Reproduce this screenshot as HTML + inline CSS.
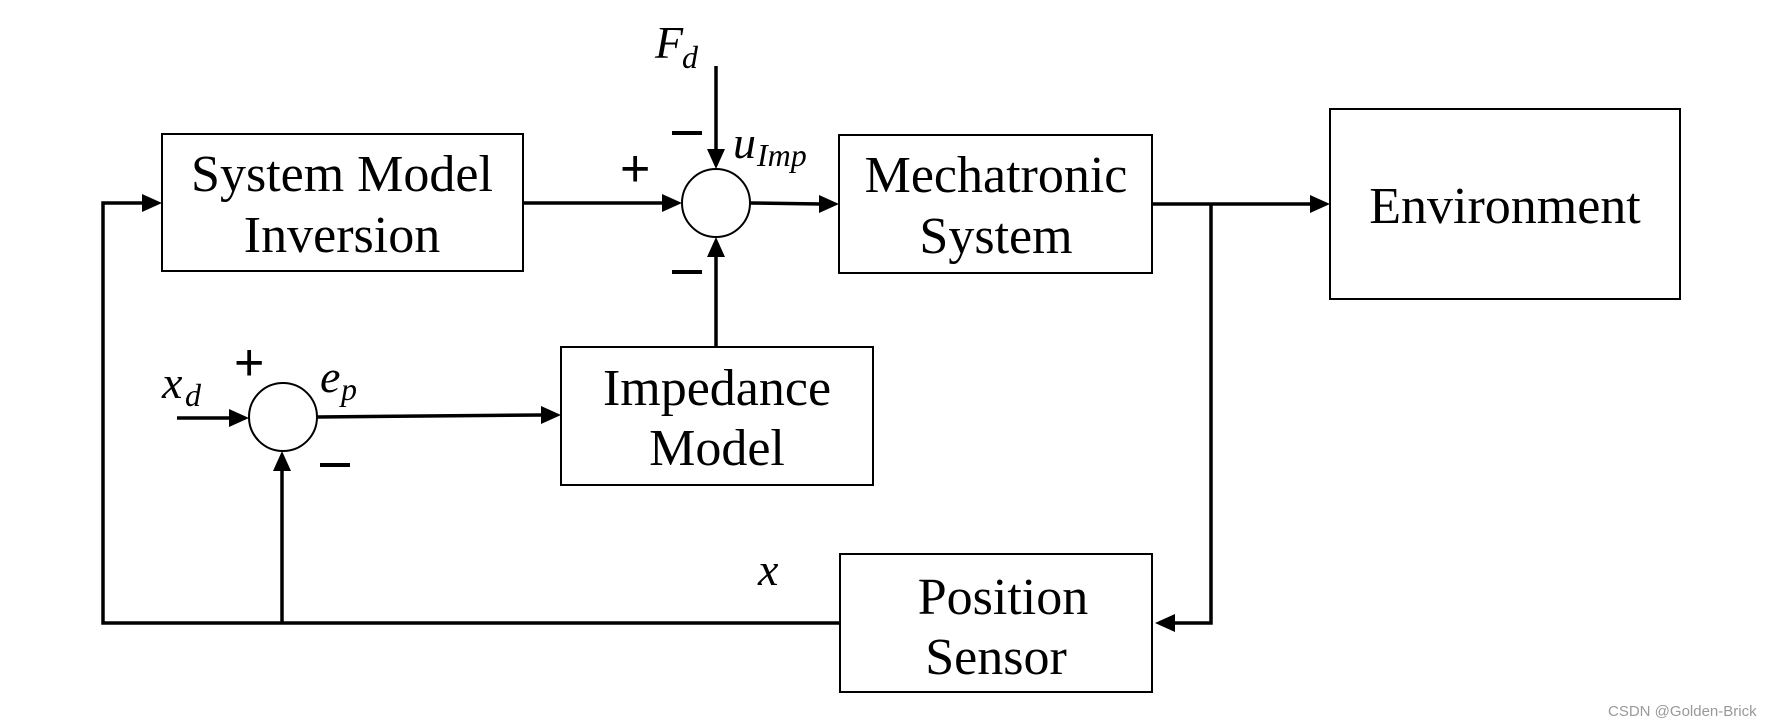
<!DOCTYPE html>
<html><head><meta charset="utf-8"><style>
html,body{margin:0;padding:0;background:#fff;}
svg{display:block;}
.t{font-family:"Liberation Serif",serif;font-size:52px;fill:#000;text-anchor:middle;}
.m{font-family:"Liberation Serif",serif;font-style:italic;font-size:46px;fill:#000;}
.s{font-family:"Liberation Serif",serif;font-style:italic;font-size:32px;fill:#000;}
.p{font-family:"Liberation Sans",sans-serif;font-size:52px;fill:#000;}
</style></head><body>
<svg width="1788" height="728" viewBox="0 0 1788 728" xmlns="http://www.w3.org/2000/svg">
<g fill="none" stroke="#000" stroke-width="2">
<rect x="162" y="134" width="361" height="137"/>
<rect x="839" y="135" width="313" height="138"/>
<rect x="1330" y="109" width="350" height="190"/>
<rect x="561" y="347" width="312" height="138"/>
<rect x="840" y="554" width="312" height="138"/>
<ellipse cx="716" cy="203" rx="34" ry="34"/>
<ellipse cx="283" cy="417" rx="34" ry="34"/>
</g>
<g fill="none" stroke="#000" stroke-width="3.5">
<polyline points="523,203 664,203"/>
<polyline points="750,203 821,204"/>
<polyline points="716,66 716,149"/>
<polyline points="716,347 716,256"/>
<polyline points="1152,204 1310,204"/>
<polyline points="1211,204 1211,623 1174,623"/>
<polyline points="840,623 103,623 103,203 143,203"/>
<polyline points="282,623 282,470"/>
<polyline points="177,418 229,418"/>
<polyline points="317,417 542,415"/>
</g>
<g fill="#000">
<polygon points="662,194 662,212 682,203"/>
<polygon points="819,195 819,213 839,204"/>
<polygon points="707,149 725,149 716,169"/>
<polygon points="707,257 725,257 716,237"/>
<polygon points="1310,195 1310,213 1330,204"/>
<polygon points="1175,614 1175,632 1155,623"/>
<polygon points="142,194 142,212 162,203"/>
<polygon points="273,471 291,471 282,451"/>
<polygon points="229,409 229,427 249,418"/>
<polygon points="541,406 541,424 561,415"/>
</g>
<text class="t" x="342" y="191">System Model</text>
<text class="t" x="342" y="252">Inversion</text>
<text class="t" x="996" y="192">Mechatronic</text>
<text class="t" x="996" y="253">System</text>
<text class="t" x="1505" y="223">Environment</text>
<text class="t" x="717" y="405">Impedance</text>
<text class="t" x="717" y="465">Model</text>
<text class="t" x="1003" y="614">Position</text>
<text class="t" x="996" y="674">Sensor</text>
<text class="m" x="655" y="58">F</text><text class="s" x="682" y="68">d</text>
<text class="m" x="733" y="158">u</text><text class="s" x="757" y="166">Imp</text>
<text class="m" x="162" y="398">x</text><text class="s" x="185" y="406">d</text>
<text class="m" x="320" y="392">e</text><text class="s" x="341" y="400">p</text>
<text class="m" x="758" y="585">x</text>
<text class="p" x="620" y="186">+</text>
<text class="p" x="234" y="380">+</text>
<rect x="672" y="131" width="30" height="4" fill="#000"/>
<rect x="672" y="270" width="30" height="4" fill="#000"/>
<rect x="320" y="463" width="30" height="4" fill="#000"/>
<text x="1608" y="716" font-family="Liberation Sans, sans-serif" font-size="15" fill="#999">CSDN @Golden-Brick</text>
</svg>
</body></html>
